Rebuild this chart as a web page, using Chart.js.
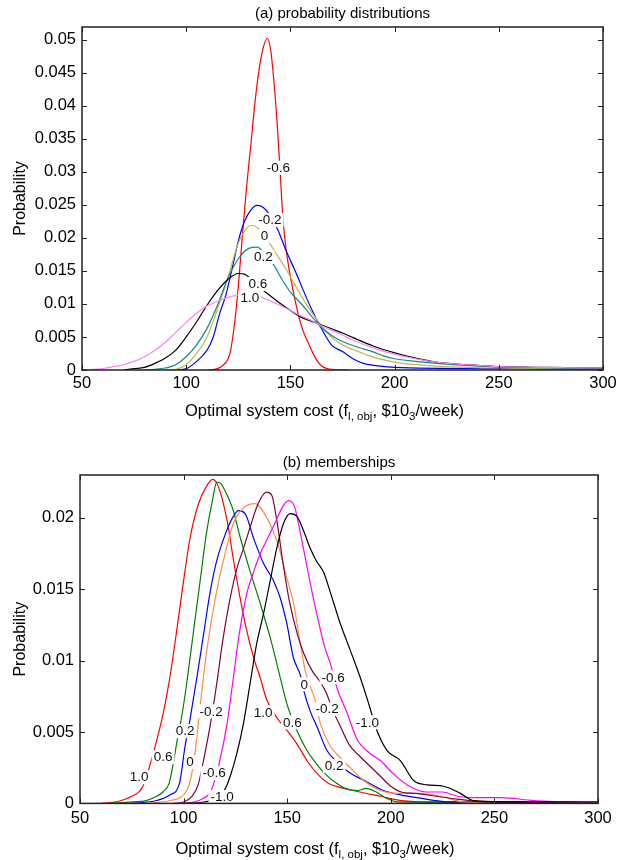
<!DOCTYPE html>
<html>
<head>
<meta charset="utf-8">
<script src="https://cdn.jsdelivr.net/npm/chart.js@4.4.1/dist/chart.umd.min.js"></script>
<style>
  body { margin: 0; background: #fff; }
  .panel { position: absolute; left: 0; width: 629px; }
  #panelA { top: 0; height: 440px; }
  #panelB { top: 440px; height: 420px; }
</style>
</head>
<body>
<div class="panel" id="panelA"><canvas id="chartA"></canvas></div>
<div class="panel" id="panelB"><canvas id="chartB"></canvas></div>
<script>
const xTicks = [50, 100, 150, 200, 250, 300];
const yTicksA = [0, 0.005, 0.01, 0.015, 0.02, 0.025, 0.03, 0.035, 0.04, 0.045, 0.05];
const yTicksB = [0, 0.005, 0.01, 0.015, 0.02];

// (a) probability distributions: [cost, probability]
const probNeg06 = [[110,0],[115,0.0002],[118,0.0008],[121,0.0025],[123,0.0065],[125,0.0126],[127,0.0205],[129,0.0278],[131,0.034],[133,0.0405],[135,0.0455],[137,0.0488],[138.9,0.0502],[140.5,0.0485],[142,0.044],[143.5,0.038],[145,0.0305],[146.5,0.0225],[148.5,0.017],[151,0.0125],[153.5,0.0088],[156,0.006],[159,0.0038],[162,0.0018],[165,0.0006],[170,0.0001],[178,0]];
const probNeg02 = [[95,0],[100,0.0002],[105,0.0013],[110,0.003],[113,0.005],[116,0.0085],[119,0.0113],[122,0.0153],[125,0.0195],[128,0.0225],[131,0.0242],[134,0.0249],[137,0.0246],[140,0.0235],[144,0.0212],[148,0.018],[152,0.0152],[156,0.0122],[160,0.0093],[165,0.0062],[170,0.0037],[175,0.0028],[180,0.0017],[185,0.001],[190,0.0007],[200,0.0004],[250,0.0002],[300,0.0001]];
const prob0 = [[90,0],[95,0.0001],[100,0.0008],[105,0.0025],[110,0.005],[115,0.0092],[120,0.014],[125,0.0192],[128,0.021],[131,0.0219],[134,0.0216],[137,0.0203],[140,0.0192],[144,0.0172],[148,0.0152],[152,0.013],[156,0.0108],[160,0.0088],[165,0.0067],[170,0.0049],[175,0.0038],[180,0.0031],[185,0.0025],[190,0.0019],[200,0.0012],[210,0.0008],[220,0.0006],[250,0.0003],[300,0.0002]];
const prob02 = [[80,0],[85,0.0001],[90,0.0003],[95,0.0008],[100,0.002],[105,0.0038],[110,0.0063],[115,0.0098],[120,0.0139],[125,0.0168],[130,0.0184],[134,0.0186],[138,0.0175],[142,0.0159],[146,0.0137],[150,0.0118],[155,0.0101],[160,0.0082],[165,0.0064],[170,0.0052],[175,0.0043],[180,0.0037],[185,0.0032],[190,0.0027],[195,0.0021],[200,0.0017],[210,0.0013],[220,0.001],[240,0.0006],[260,0.0004],[300,0.0002]];
const prob06 = [[70,0],[75,0.0002],[80,0.0004],[85,0.001],[90,0.0018],[95,0.003],[100,0.005],[105,0.0073],[110,0.0098],[115,0.012],[120,0.0137],[125,0.0146],[128,0.0145],[131,0.0138],[135,0.0126],[140,0.0113],[145,0.0101],[150,0.009],[155,0.008],[160,0.0074],[165,0.0068],[170,0.0062],[175,0.0056],[180,0.0049],[190,0.0036],[200,0.0026],[210,0.0018],[220,0.0012],[230,0.0009],[240,0.0007],[250,0.0005],[275,0.0004],[300,0.0003]];
const prob10 = [[50,0],[60,0.0002],[65,0.0005],[70,0.0008],[75,0.0013],[80,0.002],[85,0.003],[90,0.0042],[95,0.0057],[100,0.0072],[105,0.0086],[110,0.0097],[115,0.0104],[120,0.011],[125,0.0113],[130,0.0113],[135,0.0111],[140,0.0105],[145,0.0098],[150,0.009],[155,0.0082],[160,0.0075],[165,0.0067],[170,0.006],[175,0.0053],[180,0.0045],[185,0.0039],[190,0.0033],[200,0.0024],[210,0.0017],[220,0.0012],[230,0.0009],[240,0.0007],[250,0.0005],[270,0.0004],[300,0.0003]];

// (b) memberships: [cost, probability]
const memb10 = [[60,0],[65,0.00005],[70,0.0002],[75,0.0005],[80,0.0011],[84,0.0028],[87,0.0044],[90,0.0062],[93,0.0085],[96,0.0114],[100,0.0156],[103,0.0185],[107,0.0209],[111,0.0222],[114,0.0227],[117,0.0221],[121,0.0198],[124,0.0171],[127,0.0146],[130,0.0124],[134,0.0101],[137,0.0088],[140,0.0073],[145,0.006],[150,0.0051],[155,0.0041],[160,0.0029],[165,0.002],[170,0.0014],[176,0.0011],[185,0.0008],[195,0.0005],[205,0.0002],[220,0.0001],[280,0.0001],[300,0]];
const memb06 = [[65,0],[75,0.0001],[82,0.0002],[87,0.0005],[90,0.0008],[93,0.0014],[95,0.0028],[97,0.0045],[99,0.006],[101.5,0.0084],[105,0.0123],[108,0.0156],[111,0.0189],[114,0.0213],[116,0.0225],[118,0.0224],[120,0.0219],[124,0.0205],[127,0.0188],[132,0.0163],[137,0.014],[142,0.0115],[147,0.0086],[150,0.0069],[155,0.005],[160,0.0036],[164,0.0028],[168,0.0021],[174,0.0014],[179,0.001],[184,0.0009],[188,0.00105],[193,0.0008],[198,0.00035],[203,0.0001],[300,0]];
const memb02 = [[75,0],[87,0.0002],[93.5,0.0006],[98,0.0014],[100.7,0.004],[103,0.0058],[106.4,0.0088],[109.6,0.0118],[112.8,0.0148],[116,0.017],[120.5,0.019],[124,0.0201],[126.5,0.0205],[129.7,0.0203],[133.7,0.0186],[138.6,0.0168],[143.4,0.0156],[146.6,0.0144],[149.8,0.0126],[153,0.0102],[156.3,0.009],[158,0.0079],[161,0.0065],[164.3,0.0054],[169.2,0.0037],[174,0.0029],[179.6,0.0022],[188.5,0.0015],[196.5,0.0009],[204.6,0.0006],[212.6,0.0004],[228.7,0.0001],[260,0.0001],[270,0]];
const memb0 = [[82,0],[93.5,0.0002],[101.5,0.0009],[104.5,0.0025],[106.5,0.0048],[108.5,0.0075],[111,0.0105],[114,0.0133],[117,0.0156],[120,0.0175],[124,0.0196],[128.9,0.0207],[134.5,0.021],[140.2,0.02],[145,0.0184],[149.8,0.0158],[153.1,0.014],[156.3,0.0112],[158.7,0.0093],[163.5,0.0072],[166,0.0056],[170.8,0.004],[175,0.0033],[179.7,0.0026],[186.9,0.0016],[195,0.0009],[203,0.0007],[212.7,0.0007],[224,0.0005],[235,0.0001],[260,0]];
const membNeg02 = [[95,0],[100,0.0001],[104,0.0005],[107,0.0013],[110,0.0033],[113,0.0056],[116,0.0084],[119,0.0115],[122.5,0.0144],[126,0.0166],[129,0.0179],[132,0.0193],[136,0.021],[140,0.0218],[142.5,0.0216],[145,0.0198],[148,0.0168],[151,0.0142],[155,0.0118],[158,0.0105],[162,0.0093],[166,0.0085],[169,0.0077],[172,0.0065],[175,0.0056],[180,0.0041],[185,0.0033],[190,0.0026],[195,0.0019],[200,0.0012],[205,0.0008],[212,0.0007],[222,0.0005],[232,0.0003],[245,0.0001],[300,0]];
const membNeg06 = [[98,0],[105,0.0001],[110,0.0004],[113,0.0008],[117,0.0027],[121,0.0056],[124,0.0088],[127,0.012],[130.5,0.0147],[134,0.0163],[137,0.0175],[140,0.0184],[144,0.0196],[147.5,0.0207],[150.5,0.0212],[153.5,0.0208],[156,0.0192],[159,0.017],[162,0.0148],[165,0.0128],[168,0.011],[171,0.0097],[174,0.0081],[179,0.0063],[184,0.0044],[190,0.0035],[195,0.003],[201,0.0021],[209,0.0012],[217,0.0008],[225,0.0008],[232,0.0005],[240,0.0004],[253,0.0004],[269,0.0002],[285,0.0001],[300,0]];
const membNeg10 = [[100,0],[110,0.0001],[115,0.0003],[120,0.001],[122.5,0.0019],[125.7,0.0035],[128.9,0.0056],[132.1,0.0084],[135.3,0.0112],[138.6,0.0133],[141.8,0.0156],[145,0.0179],[148.2,0.0196],[151.4,0.0203],[154.7,0.0201],[157.9,0.0191],[161,0.0179],[164,0.017],[167.5,0.0162],[171,0.0147],[175.6,0.0126],[180.5,0.0107],[185.3,0.0088],[189.3,0.007],[193.3,0.0051],[198.2,0.0037],[204.6,0.003],[211,0.0016],[217.5,0.0013],[225.5,0.0012],[233.6,0.0007],[240,0.0002],[260,0.0001],[300,0.0001]];

// curve labels: [text, cost, probability]
const labelsA = [["-0.6",144.2,0.0306],["-0.2",140.2,0.0227],["0",137.6,0.0203],["0.2",137,0.0171],["0.6",134.4,0.013],["1.0",130.5,0.0109]];
const labelsB = [["1.0",78.5,0.00184],["0.6",90.1,0.00324],["0.2",100.7,0.00506],["0",103.1,0.00289],["-0.2",113.3,0.00645],["-0.6",114.7,0.00212],["-1.0",118.6,0.00045],
  ["1.0",138.4,0.00638],["0.6",152.5,0.00568],["0",158.2,0.00834],["-0.2",169.3,0.0066],["-0.6",172.2,0.00883],["-1.0",188.7,0.00568],["0.2",172.7,0.00261]];

const FONT = '"Liberation Sans", Arial, sans-serif';
const xTitleParts = [["Optimal system cost (f", false], ["l, obj", true], [", $10", false], ["3", true], ["/week)", false]];

const toPts = (arr) => arr.map(([x, y]) => ({ x, y }));
const line = (label, arr, color) => ({
  label, data: toPts(arr), borderColor: color, borderWidth: 1.2,
  pointRadius: 0, fill: false, cubicInterpolationMode: "monotone",
});

function decorPlugin(labels, yTicks, xTitleDx, xTitleDy) {
  return {
    id: "decor",
    afterDatasetsDraw(chart) {
      const { ctx, chartArea: a, scales } = chart;
      ctx.save();
      // curve labels with white gap behind them
      ctx.font = "13.5px " + FONT;
      ctx.textAlign = "center";
      ctx.textBaseline = "middle";
      labels.forEach(([t, x, y]) => {
        const px = scales.x.getPixelForValue(x);
        const py = scales.y.getPixelForValue(y);
        const w = ctx.measureText(t).width;
        ctx.fillStyle = "#fff";
        ctx.fillRect(px - w / 2 - 2, py - 7, w + 4, 14);
        ctx.fillStyle = "#111";
        ctx.fillText(t, px, py + 0.5);
      });
      // frame and inward ticks
      ctx.strokeStyle = "#222";
      ctx.lineWidth = 1.5;
      ctx.strokeRect(a.left, a.top, a.right - a.left, a.bottom - a.top);
      ctx.lineWidth = 1;
      ctx.beginPath();
      xTicks.forEach((v) => {
        const px = Math.round(scales.x.getPixelForValue(v)) + 0.5;
        ctx.moveTo(px, a.bottom); ctx.lineTo(px, a.bottom - 5);
        ctx.moveTo(px, a.top); ctx.lineTo(px, a.top + 5);
      });
      yTicks.forEach((v) => {
        const py = Math.round(scales.y.getPixelForValue(v)) + 0.5;
        ctx.moveTo(a.left, py); ctx.lineTo(a.left + 5, py);
        ctx.moveTo(a.right, py); ctx.lineTo(a.right - 5, py);
      });
      ctx.stroke();
      // x axis title with subscripts
      const big = "16.5px " + FONT, small = "11.5px " + FONT;
      let total = 0;
      xTitleParts.forEach(([t, sub]) => { ctx.font = sub ? small : big; total += ctx.measureText(t).width; });
      let cx = (a.left + a.right) / 2 + xTitleDx - total / 2;
      const base = a.bottom + xTitleDy;
      ctx.textAlign = "left";
      ctx.textBaseline = "alphabetic";
      ctx.fillStyle = "#000";
      xTitleParts.forEach(([t, sub]) => {
        ctx.font = sub ? small : big;
        ctx.fillText(t, cx, sub ? base + 4 : base);
        cx += ctx.measureText(t).width;
      });
      ctx.restore();
    },
  };
}

function makeOptions(cfg) {
  return {
    responsive: true,
    maintainAspectRatio: false,
    animation: false,
    layout: { padding: { left: 0, right: cfg.padRight, top: 0, bottom: 0 } },
    plugins: {
      legend: { display: false },
      tooltip: { enabled: false },
      title: {
        display: true, fullSize: false, text: cfg.title, color: "#000",
        font: { family: FONT, size: 15, weight: "normal" },
        padding: { top: cfg.titleTop, bottom: cfg.titleBottom },
      },
    },
    scales: {
      x: {
        type: "linear", min: 50, max: 300,
        afterBuildTicks: (s) => { s.ticks = xTicks.map((v) => ({ value: v })); },
        afterFit: (s) => { s.height = cfg.xHeight; },
        grid: { display: false, drawTicks: false },
        border: { display: false },
        ticks: { color: "#000", padding: cfg.xPad, maxRotation: 0, font: { family: FONT, size: 16.5 } },
      },
      y: {
        type: "linear", min: 0, max: cfg.yMax,
        afterBuildTicks: (s) => { s.ticks = cfg.yTicks.map((v) => ({ value: v })); },
        afterFit: (s) => { s.width = cfg.yWidth; },
        grid: { display: false, drawTicks: false },
        border: { display: false },
        ticks: { color: "#000", padding: 6, font: { family: FONT, size: 16.5 }, callback: (v) => String(+v.toFixed(4)) },
        title: { display: true, text: "Probability", color: "#000", font: { family: FONT, size: 16 }, padding: { top: 11, bottom: 0 } },
      },
    },
  };
}

new Chart(document.getElementById("chartA"), {
  type: "line",
  data: {
    datasets: [
      line("1.0", prob10, "#ff80ff"),
      line("0.6", prob06, "#000000"),
      line("0.2", prob02, "#108a8a"),
      line("0", prob0, "#c2b848"),
      line("-0.2", probNeg02, "#0000ff"),
      line("-0.6", probNeg06, "#ff0000"),
    ],
  },
  options: makeOptions({ title: "(a) probability distributions", yMax: 0.0519, yTicks: yTicksA, padRight: 26, titleTop: 5, titleBottom: 4, xHeight: 70, yWidth: 82, xPad: 4 }),
  plugins: [decorPlugin(labelsA, yTicksA, -18, 46)],
});

new Chart(document.getElementById("chartB"), {
  type: "line",
  data: {
    datasets: [
      line("-1.0", membNeg10, "#000000"),
      line("-0.6", membNeg06, "#ff00ff"),
      line("-0.2", membNeg02, "#800040"),
      line("0", memb0, "#ff8c40"),
      line("0.2", memb02, "#0000ff"),
      line("0.6", memb06, "#008000"),
      line("1.0", memb10, "#ff0000"),
    ],
  },
  options: makeOptions({ title: "(b) memberships", yMax: 0.023, yTicks: yTicksB, padRight: 31, titleTop: 14, titleBottom: 3, xHeight: 56.6, yWidth: 80, xPad: 5 }),
  plugins: [decorPlugin(labelsB, yTicksB, -24, 51)],
});
</script>
</body>
</html>
